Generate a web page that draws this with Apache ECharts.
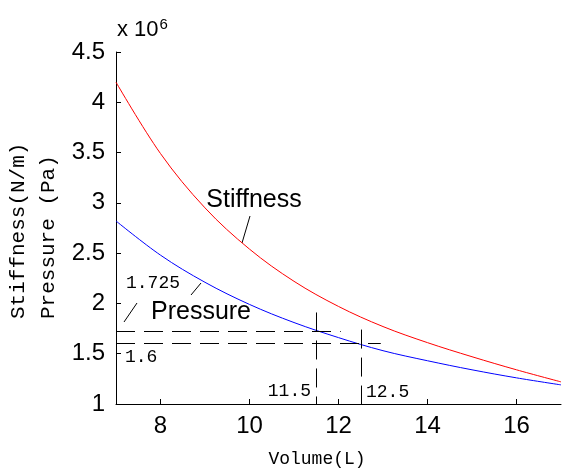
<!DOCTYPE html>
<html>
<head>
<meta charset="utf-8">
<style>
  html, body { margin: 0; padding: 0; background: #fff; }
  #chart { width: 562px; height: 471px; }
</style>
<script src="https://cdn.jsdelivr.net/npm/echarts@6/dist/echarts.min.js"></script>
</head>
<body>
<div id="chart"></div>
<script>
// 数据 (x 10^6)
var volume = [7, 8, 9, 10, 11, 12, 13, 14, 15, 16, 17];
var stiffness = [4.2, 3.49, 2.95, 2.54, 2.22, 1.97, 1.77, 1.61, 1.47, 1.34, 1.22];
var pressure = [2.82, 2.48, 2.21, 1.99, 1.81, 1.66, 1.53, 1.43, 1.34, 1.26, 1.19];
var xTicks = [8, 10, 12, 14, 16];
// 标注的点
var markVolume = [11.5, 12.5];
var markPressure = [1.725, 1.6];

(function() {
  var myChart = echarts.init(document.getElementById('chart'));
  var mono = '"Liberation Mono", "DejaVu Sans Mono", monospace';
  var sans = '"Liberation Sans", Arial, sans-serif';

  function pairs(xs, ys) {
    return xs.map(function (x, i) { return [x, ys[i]]; });
  }

  // 虚线
  var dash = { color: '#000', width: 1, type: [19, 9] };
  var guides = [
    [{ coord: [7, markPressure[0]] }, { coord: [12.05, markPressure[0]] }],
    [{ coord: [7, markPressure[1]] }, { coord: [12.95, markPressure[1]] }],
    [{ coord: [markVolume[0], 1.91] }, { coord: [markVolume[0], 1] }],
    [{ coord: [markVolume[1], 1.74] }, { coord: [markVolume[1], 1] }]
  ];

  var option = {
    animation: false,
    grid: { left: 116, top: 52, right: 1, bottom: 67 },
    xAxis: {
      type: 'value',
      min: 7,
      max: 17,
      axisLine: { lineStyle: { color: '#000', width: 1 } },
      axisTick: { inside: true, length: 5, lineStyle: { color: '#000' }, customValues: xTicks },
      axisLabel: { color: '#000', fontSize: 24, fontFamily: sans, margin: 10, customValues: xTicks },
      splitLine: { show: false }
    },
    yAxis: {
      type: 'value',
      min: 1,
      max: 4.5,
      interval: 0.5,
      axisLine: { show: true, lineStyle: { color: '#000', width: 1 } },
      axisTick: { show: true, inside: true, length: 5, lineStyle: { color: '#000' } },
      axisLabel: { color: '#000', fontSize: 24, fontFamily: sans, margin: 11 },
      splitLine: { show: false }
    },
    series: [
      {
        name: 'Stiffness',
        type: 'line',
        data: pairs(volume, stiffness),
        smooth: 0.35,
        symbol: 'none',
        lineStyle: { color: '#ff0000', width: 1 }
      },
      {
        name: 'Pressure',
        type: 'line',
        data: pairs(volume, pressure),
        smooth: 0.35,
        symbol: 'none',
        lineStyle: { color: '#0000ff', width: 1 },
        markLine: {
          silent: true,
          symbol: ['none', 'none'],
          label: { show: false },
          lineStyle: dash,
          data: guides
        }
      }
    ],
    graphic: [
      // x 10^6
      { type: 'text', left: 117, top: 17, style: {
          text: 'x 10{s|6}', font: '22px ' + sans, fill: '#000',
          rich: { s: { fontSize: 15, verticalAlign: 'top', padding: [0, 0, 10, 1] } } } },
      // y轴标题
      { type: 'text', x: 18, y: 319, rotation: Math.PI / 2, style: {
          text: 'Stiffness(N/m)', font: '21px ' + mono, fill: '#000', align: 'left', verticalAlign: 'middle' } },
      { type: 'text', x: 48, y: 319, rotation: Math.PI / 2, style: {
          text: 'Pressure (Pa)', font: '21px ' + mono, fill: '#000', align: 'left', verticalAlign: 'middle' } },
      // x轴标题
      { type: 'text', x: 317, y: 459, style: {
          text: 'Volume(L)', font: '18px ' + mono, fill: '#000', align: 'center', verticalAlign: 'middle' } },
      // 曲线标签
      { type: 'text', x: 254, y: 200, style: {
          text: 'Stiffness', font: '25px ' + sans, fill: '#000', align: 'center', verticalAlign: 'middle' } },
      { type: 'line', shape: { x1: 250, y1: 216, x2: 242, y2: 243 }, style: { stroke: '#000', lineWidth: 1 } },
      { type: 'text', x: 201, y: 312, style: {
          text: 'Pressure', font: '25px ' + sans, fill: '#000', align: 'center', verticalAlign: 'middle' } },
      { type: 'line', shape: { x1: 191, y1: 295, x2: 201, y2: 283 }, style: { stroke: '#000', lineWidth: 1 } },
      { type: 'line', shape: { x1: 124, y1: 322, x2: 137, y2: 303 }, style: { stroke: '#000', lineWidth: 1 } },
      // 数值标签
      { type: 'text', x: 126, y: 283, style: {
          text: '1.725', font: '18px ' + mono, fill: '#000', align: 'left', verticalAlign: 'middle' } },
      { type: 'text', x: 125, y: 357, style: {
          text: '1.6', font: '18px ' + mono, fill: '#000', align: 'left', verticalAlign: 'middle' } },
      { type: 'text', x: 311, y: 391, style: {
          text: '11.5', font: '18px ' + mono, fill: '#000', align: 'right', verticalAlign: 'middle' } },
      { type: 'text', x: 366, y: 392, style: {
          text: '12.5', font: '18px ' + mono, fill: '#000', align: 'left', verticalAlign: 'middle' } }
    ]
  };
  myChart.setOption(option);
  window.addEventListener('resize', function () {
    myChart.resize();
  });
})();
</script>
</body>
</html>
